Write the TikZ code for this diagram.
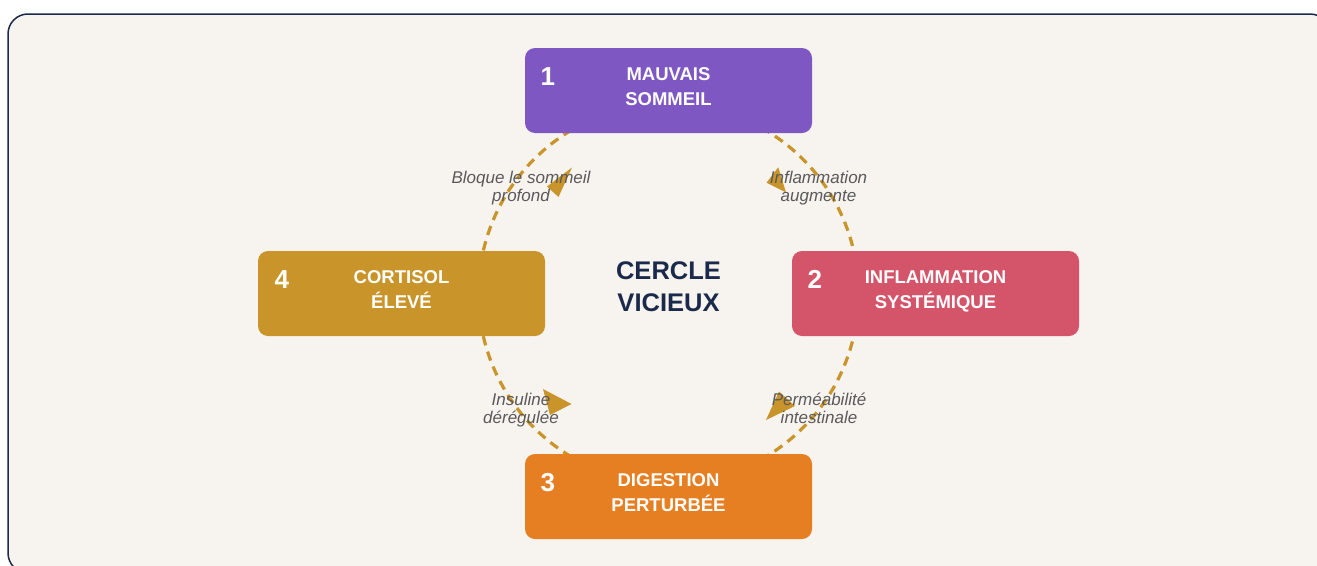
\documentclass[tikz,border=0pt]{standalone}
\usepackage{fontspec}
\setmainfont{Liberation Sans}
\usetikzlibrary{calc}
\definecolor{bg}{HTML}{F7F4EF}
\definecolor{navy}{HTML}{1B2A4A}
\definecolor{cpurple}{HTML}{7E57C2}
\definecolor{cpink}{HTML}{D4546A}
\definecolor{corange}{HTML}{E67E22}
\definecolor{cgold}{HTML}{C9952B}
\definecolor{labgray}{HTML}{5A5A5A}
\tikzset{
 stepbox/.style={rounded corners=10pt, inner sep=0pt, minimum width=287pt, minimum height=85pt, draw=none},
 num/.style={text=white, font=\fontsize{26}{26}\selectfont\bfseries, anchor=base, inner sep=0pt},
 boxtxt/.style={text=white, font=\fontsize{18.5}{18.5}\selectfont\bfseries, anchor=base, inner sep=0pt},
 centertxt/.style={text=navy, font=\fontsize{25.5}{25.5}\selectfont\bfseries, anchor=base, inner sep=0pt},
 lab/.style={text=labgray, font=\fontsize{17}{17}\selectfont\itshape, anchor=base, inner sep=0pt},
 loopline/.style={draw=cgold, line width=3.2pt, dash pattern=on 9.5pt off 6.5pt},
 tiphead/.style={fill=cgold},
}
\begin{document}
\begin{tikzpicture}[x=1pt,y=-1pt]
\useasboundingbox (0,0) rectangle (1317,565);
\fill[white] (0,0) rectangle (1317,565);
\draw[navy, line width=1.5pt, fill=bg, rounded corners=20pt] (8,14) rectangle (1330,573);

% cycle line
\coordinate (c) at (668.5,293.5);
\draw[loopline] (c) circle[radius=190pt];

% boxes
\node[stepbox, fill=cpurple] (b1) at (668.5,90.5) {};
\node[stepbox, fill=cpink]   (b2) at (935.5,293.5) {};
\node[stepbox, fill=corange] (b3) at (668.5,496.5) {};
\node[stepbox, fill=cgold]   (b4) at (401.5,293.5) {};

% box texts
\node[num] (n1) at ($(b1.north west)+(23,38)$) {1};
\node[boxtxt] (t1a) at ($(b1.north)+(0,32.7)$) {MAUVAIS};
\node[boxtxt] (t1b) at ($(b1.north)+(0,58)$) {SOMMEIL};

\node[num] (n2) at ($(b2.north west)+(23,38)$) {2};
\node[boxtxt] (t2a) at ($(b2.north)+(0,32.7)$) {INFLAMMATION};
\node[boxtxt] (t2b) at ($(b2.north)+(0,58)$) {SYSTÉMIQUE};

\node[num] (n3) at ($(b3.north west)+(23,38)$) {3};
\node[boxtxt] (t3a) at ($(b3.north)+(0,32.7)$) {DIGESTION};
\node[boxtxt] (t3b) at ($(b3.north)+(0,58)$) {PERTURBÉE};

\node[num] (n4) at ($(b4.north west)+(24,38)$) {4};
\node[boxtxt] (t4a) at ($(b4.north)+(0,32.7)$) {CORTISOL};
\node[boxtxt] (t4b) at ($(b4.north)+(0,58)$) {ÉLEVÉ};

% center
\node[centertxt] (ca) at (668.5,279.5) {CERCLE};
\node[centertxt] (cb) at (668.5,311.5) {VICIEUX};

% arrow heads
\fill[tiphead] (766.5,182.7) -- (778.3,167.3) -- (786,192.5) -- cycle;
\fill[tiphead] (572,167.5) -- (547,186.5) -- (558.5,197) -- cycle;
\fill[tiphead] (543,389) -- (571.5,404) -- (550,415) -- cycle;
\fill[tiphead] (779,391.5) -- (795,406) -- (766,420) -- cycle;

% labels
\node[lab] (l1a) at (521,183) {Bloque le sommeil};
\node[lab] (l1b) at (521,201) {profond};
\node[lab] (l2a) at (818.5,183.3) {Inflammation};
\node[lab] (l2b) at (818.5,201) {augmente};
\node[lab] (l3a) at (521,405) {Insuline};
\node[lab] (l3b) at (521,423) {dérégulée};
\node[lab] (l4a) at (819,405.5) {Perméabilité};
\node[lab] (l4b) at (819,423) {intestinale};
\end{tikzpicture}
\end{document}
